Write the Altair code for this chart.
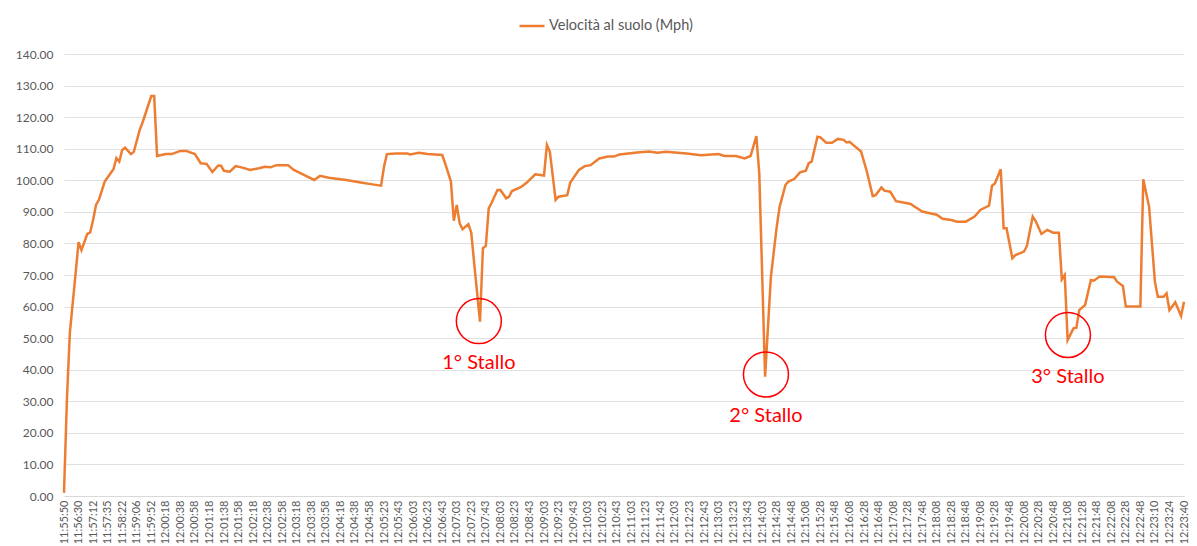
import altair as alt
import pandas as pd
import json

# sample index (5 samples per axis label) and ground speed values
sample_idx = [0, 1, 2, 4, 5, 6, 8, 9, 10, 11, 12, 14, 16, 17, 18, 19, 20, 21, 23, 24,
              26, 27, 30, 31, 32, 35, 37, 40, 42, 45, 47, 49, 51, 53, 54, 55, 57, 59, 61, 64,
              67, 69, 71, 73, 77, 79, 83, 86, 88, 91, 97, 102, 106, 109, 110, 111, 114, 118, 119, 122,
              125, 130, 131, 133, 134, 135, 136, 137, 139, 140, 141, 143, 144, 145, 146, 147, 149, 150, 152, 153,
              154, 157, 159, 162, 165, 166, 167, 169, 170, 173, 174, 177, 179, 181, 184, 187, 189, 191, 197, 201,
              204, 207, 214, 219, 225, 227, 231, 234, 236, 238, 239, 241, 243, 245, 246, 248, 249, 251, 253, 255,
              256, 257, 259, 260, 262, 264, 266, 268, 269, 270, 274, 276, 278, 279, 281, 282, 284, 286, 289, 291,
              293, 295, 298, 300, 302, 305, 307, 310, 313, 315, 318, 319, 320, 322, 323, 324, 326, 327, 330, 331,
              333, 334, 336, 338, 340, 342, 343, 344, 345, 347, 348, 349, 351, 353, 354, 356, 361, 362, 364, 365,
              370, 371, 373, 375, 376, 378, 379, 380, 382, 384, 385]
speed = [1.0, 30.4, 51.6, 70.6, 80.4, 77.9, 83.0, 83.5, 87.4, 92.2, 93.8, 99.6, 102.2, 103.5, 107.0, 105.9, 109.6, 110.3, 108.3, 109.0,
         115.9, 118.3, 126.7, 126.7, 107.7, 108.3, 108.3, 109.3, 109.3, 108.3, 105.4, 105.2, 102.6, 104.7, 104.6, 103.0, 102.7, 104.5, 104.1, 103.3,
         103.8, 104.3, 104.1, 104.8, 104.8, 103.3, 101.5, 100.1, 101.4, 100.8, 100.1, 99.3, 98.7, 98.3, 104.3, 108.3, 108.5, 108.5, 108.2, 108.7,
         108.3, 108.0, 105.4, 99.6, 87.2, 92.2, 86.4, 84.5, 86.1, 83.4, 73.7, 55.2, 78.5, 79.2, 91.1, 92.9, 96.9, 96.9, 94.3, 94.8,
         96.6, 97.8, 99.2, 101.9, 101.5, 111.2, 109.1, 93.8, 94.8, 95.3, 99.2, 103.3, 104.5, 104.8, 106.9, 107.5, 107.5, 108.2, 108.8, 109.1,
         108.7, 109.0, 108.5, 107.9, 108.3, 107.7, 107.7, 106.9, 107.7, 114.0, 102.2, 37.8, 69.5, 85.3, 91.6, 98.5, 99.6, 100.4, 102.5, 103.0,
         105.4, 105.9, 113.8, 113.6, 111.9, 111.9, 113.1, 112.8, 112.0, 112.2, 109.1, 102.7, 95.0, 95.3, 97.7, 96.7, 96.4, 93.4, 92.9, 92.5,
         91.3, 90.1, 89.5, 89.1, 87.8, 87.4, 86.9, 86.9, 88.5, 90.6, 92.0, 98.3, 99.0, 103.5, 84.8, 84.8, 75.3, 76.3, 77.4, 79.2,
         88.5, 87.1, 83.0, 84.3, 83.4, 83.4, 68.6, 70.0, 49.4, 53.1, 53.3, 58.9, 60.5, 68.4, 68.2, 69.5, 69.3, 67.9, 66.5, 60.0,
         60.0, 100.3, 91.6, 67.9, 63.1, 63.1, 64.2, 58.9, 61.4, 57.0, 61.5]

tick_labels = ["11:55:50", "11:56:30", "11:57:12", "11:57:35", "11:58:22", "11:59:06", "11:59:52",
               "12:00:18", "12:00:38", "12:00:58", "12:01:18", "12:01:38", "12:01:58", "12:02:18", "12:02:38",
               "12:02:58", "12:03:18", "12:03:38", "12:03:58", "12:04:18", "12:04:38", "12:04:58", "12:05:23",
               "12:05:43", "12:06:03", "12:06:23", "12:06:43", "12:07:03", "12:07:23", "12:07:43", "12:08:03",
               "12:08:23", "12:08:43", "12:09:03", "12:09:23", "12:09:43", "12:10:03", "12:10:23", "12:10:43",
               "12:11:03", "12:11:23", "12:11:43", "12:12:03", "12:12:23", "12:12:43", "12:13:03", "12:13:23",
               "12:13:43", "12:14:03", "12:14:28", "12:14:48", "12:15:08", "12:15:28", "12:15:48", "12:16:08",
               "12:16:28", "12:16:48", "12:17:08", "12:17:28", "12:17:48", "12:18:08", "12:18:28", "12:18:48",
               "12:19:08", "12:19:28", "12:19:48", "12:20:08", "12:20:28", "12:20:48", "12:21:08", "12:21:28",
               "12:21:48", "12:22:08", "12:22:28", "12:22:48", "12:23:10", "12:23:24", "12:23:40"]
samples_per_label = 5
y_ticks = [0, 10, 20, 30, 40, 50, 60, 70, 80, 90, 100, 110, 120, 130, 140]

stall_idx = [142.6, 241.3, 345.1]
stall_val = [55.4, 38.5, 51.0]
stall_text = ["1° Stallo", "2° Stallo", "3° Stallo"]

series_name = "Velocità al suolo (Mph)"

df = pd.DataFrame({"idx": sample_idx, "v": speed, "serie": series_name})
stalls = pd.DataFrame({"idx": stall_idx, "v": stall_val, "t": stall_text})

n_max = samples_per_label * (len(tick_labels) - 1)
tick_vals = [i * samples_per_label for i in range(len(tick_labels))]
label_expr = json.dumps(tick_labels) + "[round(datum.value / %d)]" % samples_per_label

FONT = "Lato"
GRAY = "#595959"

x_enc = alt.X("idx:Q",
              scale=alt.Scale(domain=[0, n_max], nice=False, zero=False),
              axis=alt.Axis(values=tick_vals, tickCount=200, labelExpr=label_expr, labelAngle=-90,
                            labelFontSize=11, labelFont=FONT, labelColor=GRAY,
                            labelPadding=4, ticks=False, grid=False, domain=True,
                            domainColor="#d9d9d9", title=None, labelOverlap=False,
                            labelBound=False, labelFlush=False))
y_enc = alt.Y("v:Q",
              scale=alt.Scale(domain=[0, 140], nice=False),
              axis=alt.Axis(values=y_ticks, tickCount=50, format=".2f",
                            labelFontSize=12, labelFont=FONT, labelColor=GRAY,
                            labelPadding=11, ticks=False, domain=False, labelOverlap=False,
                            grid=True, gridColor="#e0e0e0", gridWidth=1, title=None))

line = alt.Chart(df).mark_line(strokeWidth=2.5, interpolate="linear").encode(
    x=x_enc, y=y_enc,
    color=alt.Color("serie:N",
                    scale=alt.Scale(range=["#ED7D31"]),
                    legend=alt.Legend(orient="none", legendX=454, legendY=-42,
                                      title=None, symbolType="stroke", symbolSize=625,
                                      symbolStrokeWidth=2.5, labelFont=FONT, labelFontSize=14.5,
                                      labelColor=GRAY, labelOffset=3))
)

circles = alt.Chart(stalls).mark_point(shape="circle", size=2025, filled=False,
                                        color="#ff0000", strokeWidth=1.5, opacity=1).encode(
    x="idx:Q", y="v:Q")

labels = alt.Chart(stalls).mark_text(dy=42, fontSize=20, font=FONT, color="#ff0000",
                                     baseline="middle", align="center").encode(
    x="idx:Q", y="v:Q", text="t:N")

chart = alt.layer(line, circles, labels).properties(
    width=1120, height=442,
    autosize=alt.AutoSizeParams(type="none"),
    padding={"left": 56, "top": 46, "right": 5, "bottom": 50},
    background="white"
).configure_view(stroke=None)

chart.save("out.html", embed_options={"renderer": "svg", "actions": False})
